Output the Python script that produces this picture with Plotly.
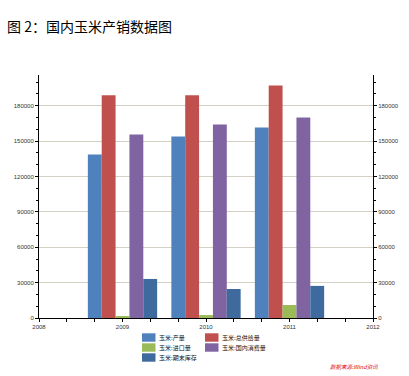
import plotly.graph_objects as go

years = [2009, 2010, 2011]
series_names = ["玉米:产量", "玉米:总供给量", "玉米:进口量", "玉米:国内消费量", "玉米:期末库存"]
production = [138500, 153800, 161500]
total_supply = [188900, 188900, 197200]
imports = [1700, 2500, 11000]
consumption = [155500, 164000, 170000]
ending_stock = [33100, 24600, 27200]
colors = ["#4F81BD", "#C0504D", "#9BBB59", "#8064A2", "#3F6A9E"]

values = [production, total_supply, imports, consumption, ending_stock]

fig = go.Figure()
for name, vals, col in zip(series_names, values, colors):
    fig.add_trace(go.Bar(x=years, y=vals, name=name, marker=dict(color=col, line=dict(width=0))))

# invisible trace for right axis
fig.add_trace(go.Scatter(x=[2008], y=[0], yaxis="y2", showlegend=False, hoverinfo="skip",
                         mode="markers", marker=dict(opacity=0)))

W, H = 409, 376
L, R, T, B = 39, 36, 75, 58
PW, PH = W - L - R, H - T - B
ymax = 206000
tickfont = dict(family="Liberation Sans, Arial", size=6, color="#333333")


def px(x):
    return (x - L) / PW


def py(y):
    return (H - B - y) / PH


fig.update_layout(
    width=W, height=H,
    margin=dict(l=L, r=R, t=T, b=B, pad=0),
    paper_bgcolor="white", plot_bgcolor="white",
    barmode="group", bargap=0.17, bargroupgap=0,
    showlegend=False,
    xaxis=dict(range=[2008, 2012], tickmode="array", tickvals=[2008, 2009, 2010, 2011, 2012],
               ticktext=["2008", "2009", "2010", "2011", "2012"],
               showline=True, linecolor="#000000", linewidth=1,
               ticks="outside", ticklen=3, tickcolor="#000000", tickfont=tickfont,
               showgrid=False, zeroline=False, fixedrange=True, automargin=False,
               minor=dict(dtick=1/3, tick0=2008, ticks="outside", ticklen=3, tickcolor="#000000", showgrid=False)),
    yaxis=dict(range=[0, ymax], tickmode="linear", tick0=0, dtick=30000,
               showline=True, linecolor="#000000", linewidth=1,
               ticks="outside", ticklen=3, tickcolor="#000000", tickfont=tickfont,
               showgrid=True, gridcolor="#D4D0C4", gridwidth=1, zeroline=False,
               tickformat="d", automargin=False,
               minor=dict(dtick=10000, ticks="outside", ticklen=2, tickcolor="#000000", showgrid=False)),
    yaxis2=dict(range=[0, ymax], overlaying="y", side="right", tickmode="linear", tick0=0, dtick=30000,
                showline=True, linecolor="#000000", linewidth=1,
                ticks="outside", ticklen=3, tickcolor="#000000", tickfont=tickfont,
                showgrid=False, zeroline=False, tickformat="d", automargin=False,
                minor=dict(dtick=10000, ticks="outside", ticklen=2, tickcolor="#000000", showgrid=False)),
)

# title
fig.add_annotation(text="图 2：国内玉米产销数据图", xref="paper", yref="paper",
                   x=px(5), y=py(26), xanchor="left", yanchor="middle", showarrow=False,
                   font=dict(family="Noto Sans CJK SC", size=14, color="#000000"))

# legend (two columns, row-wise order like the original)
legend_pos = [(142, 337.5), (205, 337.5), (142, 347.5), (205, 347.5), (142, 357.5)]
for name, col, (lx, ly) in zip(series_names, colors, legend_pos):
    fig.add_shape(type="rect", xref="paper", yref="paper",
                  x0=px(lx), x1=px(lx + 13.5), y0=py(ly - 4.2), y1=py(ly + 4.2),
                  fillcolor=col, line=dict(width=0))
    fig.add_annotation(text=name, xref="paper", yref="paper",
                       x=px(lx + 15), y=py(ly), xanchor="left", yanchor="middle", showarrow=False,
                       font=dict(family="Noto Sans CJK SC", size=6, color="#111111"))

# source
fig.add_annotation(text="<i>数据来源:Wind资讯</i>", xref="paper", yref="paper",
                   x=px(380), y=py(367), xanchor="right", yanchor="middle", showarrow=False,
                   font=dict(family="Noto Sans CJK SC", size=5.5, color="#E00000"))

fig.write_html("out.html", config={"displayModeBar": False},
               post_script="document.body.style.margin='0';document.body.style.overflow='hidden';")
